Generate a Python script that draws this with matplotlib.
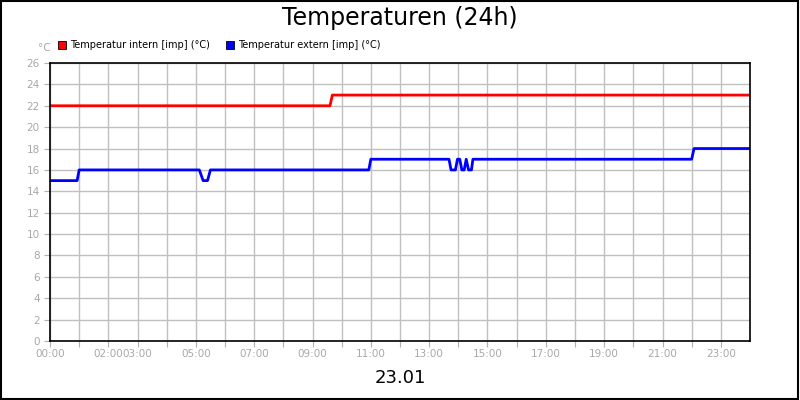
import matplotlib
matplotlib.use("Agg")
import matplotlib.pyplot as plt
from matplotlib.patches import Rectangle

# hours since 00:00 and temperature (°C)
intern_h = [0, 9.6, 9.68, 24]
intern_t = [22, 22, 23, 23]

extern_h = [0, 0.93, 1.0, 5.12, 5.25, 5.4, 5.5, 10.93, 11.0,
            13.68, 13.75, 13.9, 13.97, 14.05, 14.12, 14.2, 14.27, 14.35, 14.45, 14.5, 14.58,
            22.0, 22.08, 24]
extern_t = [15, 15, 16, 16, 15, 15, 16, 16, 17,
            17, 16, 16, 17, 17, 16, 16, 17, 16, 16, 17, 17,
            17, 18, 18]

tick_labels = {0: "00:00", 2: "02:00", 3: "03:00", 5: "05:00", 7: "07:00", 9: "09:00",
               11: "11:00", 13: "13:00", 15: "15:00", 17: "17:00", 19: "19:00",
               21: "21:00", 23: "23:00"}

fig = plt.figure(figsize=(8, 4), dpi=100)
ax = fig.add_axes([50 / 800, 1 - 341 / 400, 700 / 800, 278 / 400])

ax.plot(intern_h, intern_t, color="#ff0000", lw=2)
ax.plot(extern_h, extern_t, color="#0000ff", lw=2)

ax.set_xlim(0, 24)
ax.set_ylim(0, 26)
ax.set_xticks(range(0, 24))
ax.set_xticklabels([tick_labels.get(h, "") for h in range(24)])
ax.set_yticks(range(0, 27, 2))
ax.grid(color="#c0c0c0", lw=1)
ax.set_axisbelow(True)
ax.tick_params(colors="#b0b0b0", labelsize=7.5, length=4, labelcolor="#a8a8a8")
ax.tick_params(axis="x", pad=2)
for s in ax.spines.values():
    s.set_color("black")
    s.set_linewidth(1.2)

fig.text(0.5, 1 - 18 / 400, "Temperaturen (24h)", ha="center", va="center", fontsize=17)
fig.text(0.5, 1 - 378 / 400, "23.01", ha="center", va="center", fontsize=13)
fig.text(38 / 800, 1 - 48 / 400, "°C", ha="left", va="center", fontsize=7.5, color="#a8a8a8")

# legend
for x0, col, lab in [(58, "#ff0000", "Temperatur intern [imp] (°C)"),
                     (226, "#0000ff", "Temperatur extern [imp] (°C)")]:
    fig.patches.append(Rectangle((x0 / 800, 1 - 49 / 400), 8 / 800, 8 / 400,
                                 facecolor=col, edgecolor="black", lw=0.6,
                                 transform=fig.transFigure))
    fig.text((x0 + 12) / 800, 1 - 45 / 400, lab, ha="left", va="center", fontsize=7)

fig.patches.append(Rectangle((0.001, 0.002), 0.997, 0.996, fill=False, edgecolor="black",
                             lw=1.5, transform=fig.transFigure))

fig.savefig("out.png", dpi=100)
